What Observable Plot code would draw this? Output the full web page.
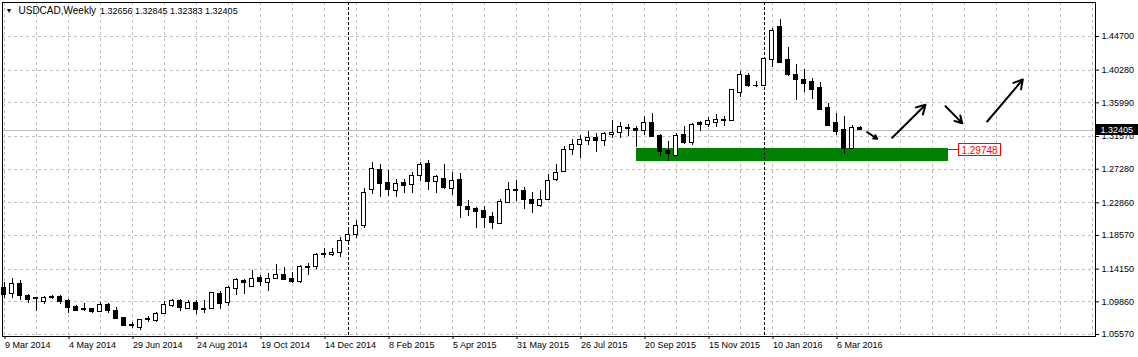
<!DOCTYPE html>
<html>
<head>
<meta charset="utf-8">
<script src="https://cdn.jsdelivr.net/npm/d3@7"></script>
<script src="https://cdn.jsdelivr.net/npm/@observablehq/plot@0.6"></script>
<style>
html, body { margin: 0; padding: 0; background: #fff; }
#chart svg { display: block; }
</style>
</head>
<body>
<div id="chart"></div>
<script>
// ---------------- data ----------------
const symbol = "USDCAD,Weekly";
const firstWeek = "2014-03-09";

const open = [
1.1174, 1.1092, 1.1223, 1.1069, 1.1030, 1.0981, 1.1056, 1.1056, 1.0995, 1.0916,
1.0882, 1.0889, 1.0850, 1.0938, 1.0868, 1.0777, 1.0675, 1.0649, 1.0748, 1.0741,
1.0829, 1.0929, 1.0991, 1.0895, 1.0977, 1.0895, 1.0895, 1.1092, 1.0968, 1.1157,
1.1262, 1.1178, 1.1302, 1.1236, 1.1289, 1.1341, 1.1289, 1.1244, 1.1450, 1.1441,
1.1617, 1.1595, 1.1630, 1.1791, 1.1866, 1.1979, 1.2448, 1.2711, 1.2544, 1.2439,
1.2544, 1.2514, 1.2632, 1.2799, 1.2557, 1.2602, 1.2470, 1.2589, 1.2229, 1.2208,
1.2176, 1.2098, 1.2011, 1.2287, 1.2452, 1.2440, 1.2317, 1.2242, 1.2317, 1.2589,
1.2697, 1.2982, 1.3048, 1.3095, 1.3135, 1.3095, 1.3179, 1.3206, 1.3271, 1.3262,
1.3227, 1.3337, 1.3157, 1.2969, 1.2898, 1.3179, 1.3074, 1.3328, 1.3311, 1.3337,
1.3367, 1.3358, 1.3731, 1.3945, 1.3817, 1.3817, 1.4164, 1.4601, 1.4155, 1.3971,
1.3905, 1.3870, 1.3791, 1.3529, 1.3337, 1.3236, 1.2990, 1.32656
];
const high = [
1.1240, 1.1289, 1.1266, 1.1079, 1.1047, 1.1060, 1.1069, 1.1063, 1.1013, 1.0938,
1.0968, 1.0903, 1.0973, 1.0968, 1.0908, 1.0784, 1.0719, 1.0758, 1.0798, 1.0850,
1.0991, 1.1013, 1.1013, 1.1005, 1.1010, 1.1000, 1.1113, 1.1126, 1.1188, 1.1289,
1.1276, 1.1398, 1.1332, 1.1354, 1.1472, 1.1433, 1.1375, 1.1463, 1.1493, 1.1617,
1.1690, 1.1690, 1.1827, 1.1923, 1.2054, 1.2470, 1.2820, 1.2789, 1.2711, 1.2589,
1.2589, 1.2688, 1.2820, 1.2842, 1.2645, 1.2789, 1.2688, 1.2667, 1.2317, 1.2229,
1.2242, 1.2163, 1.2326, 1.2557, 1.2579, 1.2484, 1.2426, 1.2448, 1.2654, 1.2789,
1.3026, 1.3118, 1.3170, 1.3223, 1.3193, 1.3206, 1.3367, 1.3337, 1.3311, 1.3288,
1.3420, 1.3455, 1.3183, 1.3091, 1.3193, 1.3288, 1.3324, 1.3354, 1.3403, 1.3446,
1.3420, 1.3765, 1.4011, 1.3988, 1.3879, 1.4198, 1.4571, 1.4689, 1.4322, 1.4102,
1.4033, 1.3915, 1.3870, 1.3586, 1.3455, 1.3420, 1.3301, 1.32845
];
const low = [
1.1030, 1.1026, 1.1004, 1.0968, 1.0859, 1.0951, 1.1013, 1.0947, 1.0829, 1.0859,
1.0859, 1.0829, 1.0842, 1.0837, 1.0760, 1.0662, 1.0632, 1.0610, 1.0711, 1.0711,
1.0816, 1.0916, 1.0863, 1.0882, 1.0820, 1.0829, 1.0890, 1.0882, 1.0925, 1.1073,
1.1081, 1.1175, 1.1188, 1.1126, 1.1285, 1.1266, 1.1231, 1.1231, 1.1332, 1.1411,
1.1559, 1.1585, 1.1572, 1.1735, 1.1814, 1.1945, 1.2392, 1.2360, 1.2369, 1.2360,
1.2405, 1.2405, 1.2570, 1.2448, 1.2413, 1.2457, 1.2382, 1.2084, 1.2111, 1.1953,
1.1945, 1.1932, 1.2008, 1.2285, 1.2308, 1.2198, 1.2142, 1.2221, 1.2315, 1.2570,
1.2695, 1.2908, 1.2864, 1.3039, 1.2951, 1.3030, 1.3127, 1.3127, 1.3161, 1.3017,
1.3170, 1.3145, 1.2898, 1.2833, 1.2895, 1.3048, 1.3039, 1.3227, 1.3271, 1.3279,
1.3292, 1.3355, 1.3665, 1.3804, 1.3804, 1.3815, 1.4067, 1.4112, 1.3945, 1.3630,
1.3739, 1.3639, 1.3498, 1.3298, 1.3170, 1.2921, 1.2988, 1.32383
];
const close = [
1.1082, 1.1223, 1.1069, 1.1004, 1.1022, 1.1039, 1.1040, 1.0981, 1.0908, 1.0863,
1.0889, 1.0850, 1.0947, 1.0863, 1.0763, 1.0666, 1.0684, 1.0754, 1.0761, 1.0829,
1.0938, 1.0991, 1.0903, 1.0968, 1.0882, 1.0882, 1.1105, 1.0960, 1.1170, 1.1275,
1.1231, 1.1289, 1.1244, 1.1289, 1.1341, 1.1279, 1.1244, 1.1450, 1.1433, 1.1595,
1.1595, 1.1630, 1.1791, 1.1870, 1.1988, 1.2418, 1.2733, 1.2536, 1.2448, 1.2536,
1.2505, 1.2632, 1.2789, 1.2557, 1.2623, 1.2484, 1.2579, 1.2242, 1.2195, 1.2163,
1.2089, 1.2024, 1.2294, 1.2457, 1.2446, 1.2326, 1.2273, 1.2326, 1.2579, 1.2675,
1.2982, 1.3048, 1.3105, 1.3140, 1.3095, 1.3193, 1.3206, 1.3288, 1.3253, 1.3232,
1.3337, 1.3148, 1.2951, 1.2925, 1.3170, 1.3069, 1.3311, 1.3305, 1.3354, 1.3380,
1.3370, 1.3761, 1.3958, 1.3817, 1.3819, 1.4177, 1.4536, 1.4119, 1.3958, 1.3905,
1.3840, 1.3761, 1.3508, 1.3301, 1.3214, 1.2996, 1.3271, 1.32405
];

// price axis ticks (right)
const yTicks = [1.44700, 1.40280, 1.35990, 1.31570, 1.27280, 1.22860, 1.18570, 1.14150, 1.09860, 1.05570];
// time axis ticks (bottom)
const xTickDates = ["2014-03-09","2014-05-04","2014-06-29","2014-08-24","2014-10-19","2014-12-14","2015-02-08",
                    "2015-04-05","2015-05-31","2015-07-26","2015-09-20","2015-11-15","2016-01-10","2016-03-06"];
const xTickLabels = ["9 Mar 2014","4 May 2014","29 Jun 2014","24 Aug 2014","19 Oct 2014","14 Dec 2014","8 Feb 2015",
                     "5 Apr 2015","31 May 2015","26 Jul 2015","20 Sep 2015","15 Nov 2015","10 Jan 2016","6 Mar 2016"];
// year period separators
const separators = ["2015-01-04", "2016-01-03"];

// support zone (rectangle) and its price label
const zoneStart = "2015-09-13", zoneEnd = "2016-06-12";
const zoneLow = 1.2833, zoneHigh = 1.3002;
const labelDate = "2016-06-12", labelPrice = 1.29748;

// hand-drawn forecast arrows (time, price)
const arrowT1 = ["2016-04-02T07:00Z","2016-04-24T05:00Z","2016-06-09T20:00Z","2016-07-16T07:00Z"];
const arrowP1 = [1.3214, 1.3140, 1.3555, 1.3354];
const arrowT2 = ["2016-04-11T01:00Z","2016-05-23T08:00Z","2016-06-24T11:00Z","2016-08-16T11:00Z"];
const arrowP2 = [1.3127, 1.3573, 1.3332, 1.3905];

// ---------------- build ----------------
const W = 1138, H = 357;
const mL = 2, mR = 43, mT = 2, mB = 21;
const start = new Date(firstWeek);
const WEEK = 7 * 864e5;
const barPx = 8;                       // pixel spacing of weekly bars
const plotW = W - mL - mR;
const x0 = new Date(+start - (1.5 / barPx) * WEEK);
const x1 = new Date(+x0 + (plotW / barPx) * WEEK);

const bars = open.map((o, i) => ({
  date: d3.utcDay.offset(start, 7 * i),
  open: o, high: high[i], low: low[i], close: close[i]
}));
const upBars = bars.filter(d => d.close >= d.open);
const last = bars[bars.length - 1];

const gridDates = d3.range(0, Math.ceil(plotW / barPx) + 1, 4).map(i => d3.utcDay.offset(start, 7 * i));
const labelMap = new Map(xTickDates.map((d, i) => [+new Date(d), xTickLabels[i]]));
const arrows = arrowT1.map((t, i) => ({t1: new Date(t), p1: arrowP1[i], t2: new Date(arrowT2[i]), p2: arrowP2[i]}));

const FONT = "Liberation Sans, Arial, sans-serif";

function overlays(index, scales, values, dimensions) {
  const g = d3.create("svg:g").attr("font-family", FONT).attr("font-size", 9).attr("text-anchor", "start");
  const right = dimensions.width - dimensions.marginRight;
  // red price label
  const lx = scales.x(new Date(labelDate)), ly = scales.y(labelPrice);
  g.append("line").attr("x1", lx).attr("x2", lx + 11).attr("y1", Math.round(ly) - 0.5).attr("y2", Math.round(ly) - 0.5)
    .attr("stroke", "#ff0000").attr("shape-rendering", "crispEdges");
  g.append("rect").attr("x", lx + 11).attr("y", Math.round(ly) - 6.5).attr("width", 42).attr("height", 12)
    .attr("fill", "#fff").attr("stroke", "#ff0000").attr("shape-rendering", "crispEdges");
  g.append("text").attr("x", lx + 32).attr("y", Math.round(ly) + 3.5).attr("text-anchor", "middle")
    .attr("font-size", 10).attr("fill", "#ff0000").text(labelPrice.toFixed(5));
  // current price box on the price axis
  const cy = scales.y(last.close);
  g.append("rect").attr("x", right + 1).attr("y", Math.round(cy) - 6).attr("width", dimensions.marginRight - 1)
    .attr("height", 11).attr("fill", "#000").attr("shape-rendering", "crispEdges");
  g.append("text").attr("x", right + 5.5).attr("y", Math.round(cy) + 3).attr("fill", "#fff").text(last.close.toFixed(5));
  // header
  g.append("text").attr("x", dimensions.marginLeft + 3.5).attr("y", 13).attr("font-size", 7).attr("fill", "#000").text("\u25BC");
  g.append("text").attr("x", dimensions.marginLeft + 16.5).attr("y", 14).attr("font-size", 10).attr("fill", "#000").text(symbol);
  g.append("text").attr("x", dimensions.marginLeft + 98).attr("y", 14).attr("fill", "#000")
    .text([last.open, last.high, last.low, last.close].map(v => v.toFixed(5)).join(" "));
  return g.node();
}

const chart = Plot.plot({
  width: W, height: H,
  marginLeft: mL, marginRight: mR, marginTop: mT, marginBottom: mB,
  style: {fontFamily: FONT, fontSize: "9px", background: "#fff", color: "#000", overflow: "visible"},
  x: {type: "utc", domain: [x0, x1]},
  y: {domain: [1.053092, 1.491643]},
  marks: [
    Plot.ruleY(yTicks, {stroke: "#c0c0c0", strokeDasharray: "3,3", shapeRendering: "crispEdges"}),
    Plot.ruleX(gridDates, {stroke: "#c0c0c0", strokeDasharray: "3,3", shapeRendering: "crispEdges"}),
    Plot.rect([{a: new Date(zoneStart), b: new Date(zoneEnd), lo: zoneLow, hi: zoneHigh}],
      {x1: "a", x2: "b", y1: "lo", y2: "hi", fill: "#008000", shapeRendering: "crispEdges"}),
    Plot.ruleY([last.close], {stroke: "#c0c0c0", shapeRendering: "crispEdges"}),
    Plot.ruleX(separators.map(d => new Date(d)), {stroke: "#000", strokeDasharray: "3,2", shapeRendering: "crispEdges"}),
    Plot.ruleX(bars, {x: "date", y1: "low", y2: "high", stroke: "#000", shapeRendering: "crispEdges"}),
    Plot.rect(bars, {x1: "date", x2: "date", y1: "open", y2: "close", fill: "#000",
      insetLeft: -2.5, insetRight: -2.5, insetTop: -0.5, insetBottom: -0.5, shapeRendering: "crispEdges"}),
    Plot.rect(upBars, {x1: "date", x2: "date", y1: "open", y2: "close", fill: "#fff",
      insetLeft: -1.5, insetRight: -1.5, insetTop: 0.5, insetBottom: 0.5, shapeRendering: "crispEdges"}),
    Plot.arrow(arrows, {x1: "t1", y1: "p1", x2: "t2", y2: "p2", stroke: "#000", strokeWidth: 2,
      headLength: 7.5, headAngle: 60, bend: 0}),
    Plot.frame({stroke: "#000", shapeRendering: "crispEdges"}),
    Plot.axisY({anchor: "right", ticks: yTicks, tickFormat: d => d.toFixed(5), tickSize: 3, tickPadding: 3,
      label: null, fontSize: 9, fill: "#000", stroke: "#000"}),
    Plot.axisX({anchor: "bottom", ticks: xTickDates.map(d => new Date(d)), tickFormat: d => labelMap.get(+d),
      tickSize: 3, tickPadding: 2, textAnchor: "start", dx: 1, label: null, fontSize: 9, fill: "#000"}),
    overlays
  ]
});
document.getElementById("chart").appendChild(chart);
</script>
</body>
</html>
